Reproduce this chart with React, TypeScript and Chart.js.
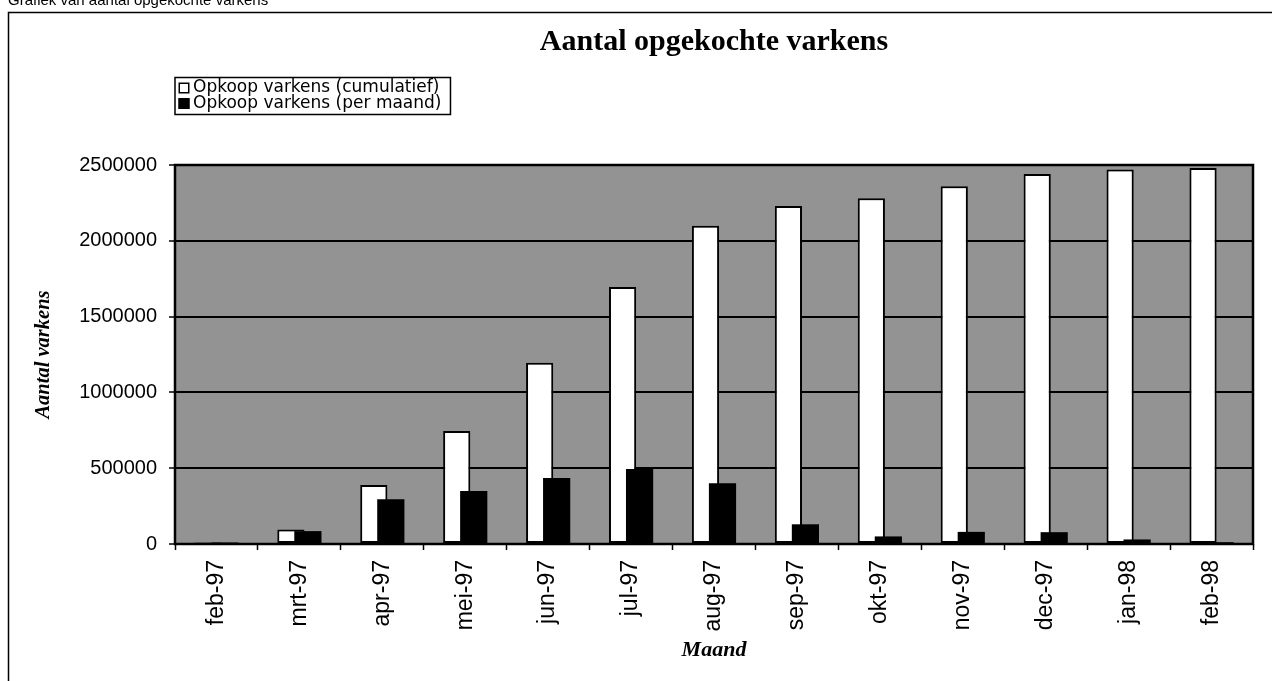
import React, { useEffect, useRef } from 'react';
import { Chart, registerables } from 'chart.js';

Chart.register(...registerables);

// ---- data ----
const months = ['feb-97', 'mrt-97', 'apr-97', 'mei-97', 'jun-97', 'jul-97', 'aug-97', 'sep-97', 'okt-97', 'nov-97', 'dec-97', 'jan-98', 'feb-98'];
const cumulative = [10000, 95000, 390000, 745000, 1195000, 1695000, 2100000, 2230000, 2280000, 2360000, 2440000, 2470000, 2480000];
const perMonth = [10000, 85000, 295000, 350000, 435000, 495000, 400000, 130000, 50000, 80000, 78000, 30000, 12000];
const yMin = 0;
const yMax = 2500000;
const yStep = 500000;
const seriesLabels = ['Opkoop varkens (cumulatief)', 'Opkoop varkens (per maand)'];
const chartTitle = 'Aantal opgekochte varkens';
const yTitle = 'Aantal varkens';
const xTitle = 'Maand';
const pageHeading = 'Grafiek van aantal opgekochte varkens';

const SANS = "'Liberation Sans', Arial, sans-serif";
const WIDE_SANS = "'DejaVu Sans', Verdana, sans-serif";
const SERIF = "'Liberation Serif', 'Times New Roman', serif";
const PLOT_BG = '#939393';

export default function App() {
  const ref = useRef<HTMLCanvasElement | null>(null);

  useEffect(() => {
    const canvas = ref.current;
    if (!canvas) return;
    Chart.defaults.color = '#000';

    const decor = {
      id: 'decor',
      beforeDraw(chart: any) {
        const { ctx, chartArea: a, width, height } = chart;
        ctx.save();
        ctx.fillStyle = '#fff';
        ctx.fillRect(0, 0, width, height);
        // page frame (top and left edges visible)
        ctx.strokeStyle = '#000';
        ctx.lineWidth = 1.5;
        ctx.beginPath();
        ctx.moveTo(1272, 12.5);
        ctx.lineTo(8.5, 12.5);
        ctx.lineTo(8.5, height);
        ctx.stroke();
        ctx.fillStyle = PLOT_BG;
        ctx.fillRect(a.left, a.top, a.right - a.left, a.bottom - a.top);
        ctx.restore();
      },
      beforeDatasetsDraw(chart: any) {
        const { ctx, chartArea: a } = chart;
        ctx.save();
        ctx.strokeStyle = '#000';
        ctx.lineWidth = 2.5;
        ctx.strokeRect(a.left, a.top, a.right - a.left, a.bottom - a.top);
        ctx.restore();
      },
      // draw the per-month series after the cumulative one so it overlaps on top
      beforeDatasetDraw(chart: any, args: any) {
        if (args.index === 1) return false;
        return true;
      },
      afterDatasetsDraw(chart: any) {
        const meta = chart.getDatasetMeta(1);
        if (meta && !meta.hidden) meta.controller.draw();
      },
      afterDraw(chart: any) {
        // framed legend, items stacked vertically
        const { ctx, chartArea: a } = chart;
        const ds = chart.data.datasets;
        ctx.save();
        ctx.font = `17px ${WIDE_SANS}`;
        const boxLeft = a.left;
        const boxTop = 77.5;
        const rowGap = 15.5;
        const firstRow = 88;
        const markerX = boxLeft + 3.5;
        const markerS = 11;
        const textX = boxLeft + 18;
        let maxW = 0;
        ds.forEach((d: any) => { maxW = Math.max(maxW, ctx.measureText(d.label).width); });
        const boxRight = textX + maxW + 9;
        const boxBottom = firstRow + rowGap * (ds.length - 1) + 11;
        ctx.strokeStyle = '#000';
        ctx.lineWidth = 1.5;
        ctx.strokeRect(boxLeft, boxTop, boxRight - boxLeft, boxBottom - boxTop);
        ds.forEach((d: any, i: number) => {
          const cy = firstRow + rowGap * i;
          ctx.fillStyle = d.backgroundColor;
          ctx.fillRect(markerX, cy - markerS / 2, markerS, markerS);
          ctx.strokeStyle = '#000';
          ctx.lineWidth = 1.5;
          ctx.strokeRect(markerX + 0.75, cy - markerS / 2 + 0.75, markerS - 1.5, markerS - 1.5);
          ctx.fillStyle = '#000';
          ctx.textBaseline = 'middle';
          ctx.textAlign = 'left';
          ctx.fillText(d.label, textX, cy);
        });
        ctx.restore();
      },
    };

    const barCommon = {
      categoryPercentage: 0.41,
      barPercentage: 1.6,
      borderSkipped: false as const,
    };

    const chart = new Chart(canvas, {
      type: 'bar',
      data: {
        labels: months,
        datasets: [
          {
            label: seriesLabels[0],
            data: cumulative,
            backgroundColor: '#ffffff',
            borderColor: '#000000',
            borderWidth: 2,
            ...barCommon,
          },
          {
            label: seriesLabels[1],
            data: perMonth,
            backgroundColor: '#000000',
            borderColor: '#000000',
            borderWidth: 0,
            ...barCommon,
          },
        ],
      },
      options: {
        responsive: false,
        animation: false,
        devicePixelRatio: 1,
        layout: { padding: { left: 0, right: 23, top: 0, bottom: 0 } },
        plugins: {
          tooltip: { enabled: false },
          legend: { display: false },
          title: {
            display: true,
            text: chartTitle,
            fullSize: false,
            color: '#000',
            font: { family: SERIF, size: 30, weight: 'bold', lineHeight: 1.2 },
            padding: { top: 24, bottom: 105 },
          },
        },
        scales: {
          x: {
            type: 'category',
            offset: true,
            afterFit: (s: any) => { s.height = 137; },
            border: { display: false },
            grid: {
              display: true,
              offset: true,
              drawOnChartArea: false,
              drawTicks: true,
              tickLength: 6,
              tickColor: '#000',
              tickWidth: 1.5,
            },
            ticks: {
              color: '#000',
              font: { family: SANS, size: 23 },
              maxRotation: 90,
              minRotation: 90,
              padding: 10,
              autoSkip: false,
            },
            title: {
              display: true,
              text: xTitle,
              color: '#000',
              font: { family: SERIF, size: 22, weight: 'bold', style: 'italic' },
              padding: { top: 0, bottom: 17 },
            },
          },
          y: {
            min: yMin,
            max: yMax,
            afterFit: (s: any) => { s.width = 175; },
            border: { display: false },
            grid: {
              color: '#000',
              lineWidth: 2,
              drawTicks: true,
              tickLength: 6,
              tickColor: '#000',
              tickWidth: 1.5,
            },
            ticks: {
              stepSize: yStep,
              color: '#000',
              font: { family: SANS, size: 20 },
              padding: 12,
              callback: (v: any) => String(v),
            },
            title: {
              display: true,
              text: yTitle,
              color: '#000',
              font: { family: SERIF, size: 20.5, weight: 'bold', style: 'italic' },
              padding: { top: 31, bottom: 0 },
            },
          },
        },
      },
      plugins: [decor],
    } as any);

    return () => chart.destroy();
  }, []);

  return (
    <div style={{ position: 'absolute', left: 0, top: 0, width: 1276, height: 681, overflow: 'hidden', background: '#fff' }}>
      <canvas ref={ref} width={1276} height={681} style={{ display: 'block', width: 1276, height: 681 }} />
      <div style={{ position: 'absolute', left: 8, top: -8, font: `15px ${SANS}`, lineHeight: '15px', color: '#000', whiteSpace: 'nowrap' }}>
        {pageHeading}
      </div>
    </div>
  );
}
